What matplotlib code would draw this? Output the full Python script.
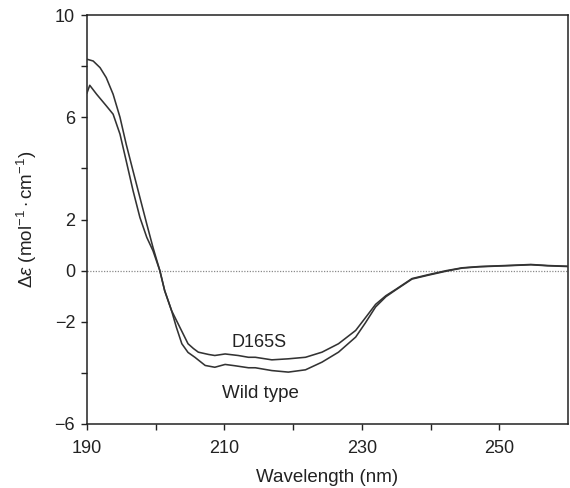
import matplotlib
matplotlib.use("Agg")
import matplotlib.pyplot as plt

plt.rcParams['font.family'] = ['Liberation Sans', 'DejaVu Sans']
plt.rcParams['mathtext.fontset'] = 'custom'
plt.rcParams['mathtext.rm'] = 'Liberation Sans'
plt.rcParams['mathtext.it'] = 'Liberation Sans:italic'
plt.rcParams['axes.unicode_minus'] = True

# CD spectra (wavelength in nm, delta epsilon)
wt_nm = [190.0, 190.9, 191.9, 192.8, 193.8, 194.8, 195.7, 196.7, 197.7, 198.7,
         199.6, 200.6, 201.3, 202.3, 203.0, 203.8, 204.7, 205.7, 207.2, 208.6,
         210.1, 211.5, 213.5, 214.5, 216.9, 219.3, 221.8, 224.2, 226.6, 229.1,
         230.5, 232.0, 233.5, 234.9, 237.3, 239.8, 242.3, 244.6, 247.1, 250.0,
         252.0, 254.6, 257.0, 260.0]
wt_de = [8.27, 8.20, 7.94, 7.55, 6.90, 6.00, 4.95, 3.90, 2.86, 1.82,
         0.91, 0.00, -0.78, -1.56, -2.21, -2.86, -3.20, -3.39, -3.71, -3.78,
         -3.67, -3.72, -3.80, -3.80, -3.91, -3.97, -3.88, -3.58, -3.19, -2.60,
         -2.05, -1.42, -1.02, -0.76, -0.33, -0.17, -0.02, 0.10, 0.15, 0.18,
         0.20, 0.23, 0.19, 0.16]

d165s_nm = [190.0, 190.4, 191.4, 192.8, 193.8, 194.8, 195.7, 196.7, 197.7, 198.7,
            199.6, 200.6, 201.3, 202.3, 203.5, 204.7, 205.5, 206.2, 207.7, 208.6,
            210.1, 212.0, 213.5, 214.5, 216.9, 219.3, 221.8, 224.2, 226.6, 229.1,
            230.5, 232.0, 233.5, 234.9, 237.3, 239.8, 242.3, 244.6, 247.1, 250.0,
            252.0, 254.6, 257.0, 260.0]
d165s_de = [6.95, 7.25, 6.90, 6.45, 6.12, 5.34, 4.30, 3.13, 2.08, 1.30,
            0.78, 0.00, -0.78, -1.56, -2.21, -2.86, -3.05, -3.19, -3.28, -3.32,
            -3.26, -3.32, -3.39, -3.39, -3.49, -3.45, -3.39, -3.19, -2.86, -2.34,
            -1.85, -1.32, -0.98, -0.74, -0.31, -0.15, 0.00, 0.11, 0.16, 0.19,
            0.21, 0.24, 0.20, 0.17]

x_ticks = [190, 200, 210, 220, 230, 240, 250]
x_labels = ['190', '', '210', '', '230', '', '250']
y_ticks = [-6, -4, -2, 0, 2, 4, 6, 8, 10]
y_labels = ['\u22126', '', '\u22122', '0', '2', '', '6', '', '10']

fig = plt.figure(figsize=(5.7, 4.88), dpi=100)
ax = fig.add_axes([87 / 570, 64 / 488, 481 / 570, 409 / 488])

ax.axhline(0, color='#8a8a8a', lw=0.9, ls=(0, (1, 1.2)), zorder=1)
ax.plot(wt_nm, wt_de, color='#333333', lw=1.15, zorder=3)
ax.plot(d165s_nm, d165s_de, color='#333333', lw=1.15, zorder=3)

ax.text(215.0, -3.0, 'D165S', ha='center', va='baseline', fontsize=13, color='#222222')
ax.text(215.2, -5.0, 'Wild type', ha='center', va='baseline', fontsize=13.5, color='#222222')

ax.set_xlim(190, 260)
ax.set_ylim(-6, 10)
ax.set_xticks(x_ticks)
ax.set_xticklabels(x_labels)
ax.set_yticks(y_ticks)
ax.set_yticklabels(y_labels)
ax.tick_params(direction='out', length=4.5, width=1.0, labelsize=13,
               colors='#222222', pad=4)
ax.tick_params(axis='x', pad=7)

for s in ax.spines.values():
    s.set_linewidth(1.1)
    s.set_color('#222222')

ax.set_xlabel('Wavelength (nm)', fontsize=13.5, color='#222222', labelpad=9)
ax.set_ylabel(r'$\Delta\varepsilon$ (mol$^{-1}\cdot$cm$^{-1}$)', fontsize=13.5,
              color='#222222', labelpad=11)

fig.savefig('out.png', dpi=100)
